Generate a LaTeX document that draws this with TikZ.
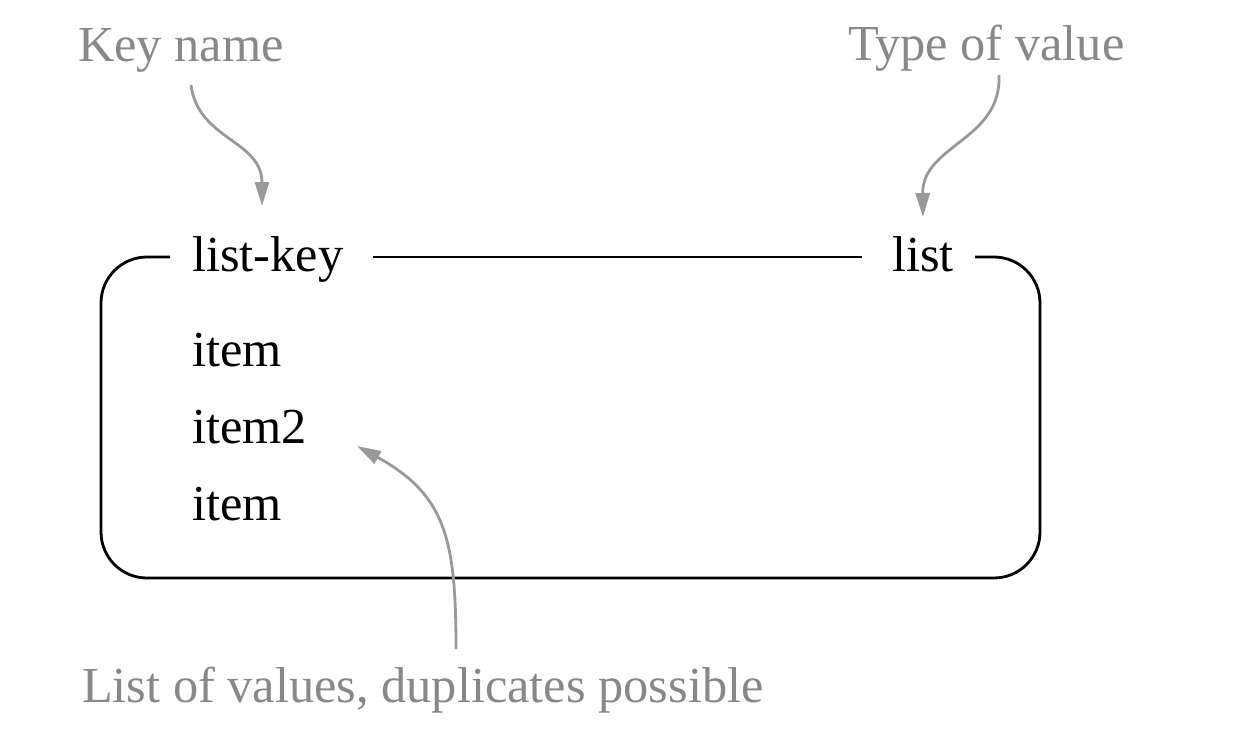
\documentclass[tikz,border=0pt]{standalone}
\usepackage{fontspec}
\setmainfont{Liberation Serif}
\usetikzlibrary{arrows.meta}
\definecolor{labelgray}{HTML}{888888}
\definecolor{arrowgray}{HTML}{999999}
\begin{document}
\begin{tikzpicture}[x=1pt,y=-1pt,
  every node/.style={inner sep=0pt, outer sep=0pt, anchor=base west, font=\fontsize{50.4}{60}\selectfont},
  notelabel/.style={text=labelgray},
  entry/.style={text=black},
  boxline/.style={draw=black, line width=2.8pt},
  note/.style={draw=arrowgray, line width=2.8pt, -{Triangle[length=24pt,width=14pt]}}]
\useasboundingbox (0,0) rectangle (1240,732);

% labels
\node[notelabel] (keyname) at (78,61) {Key name};
\node[notelabel] (typeval) at (848,60) {Type of value};
\node[notelabel] (listvals) at (82,702) {List of values, duplicates possible};

% entries
\node[entry] (listkey) at (192,271) {list-key};
\node[entry] (listtype) at (892,271) {list};
\node[entry] (item1) at (192,366) {item};
\node[entry] (item2) at (192,443) {item2};
\node[entry] (item3) at (192,520) {item};

% box
\coordinate (boxL) at (170,257);
\coordinate (boxR) at (975,257);
\coordinate (midL) at (373,257);
\coordinate (midR) at (862,257);
\draw[boxline, rounded corners=46pt] (boxL) -| (101,578) -| (1040,257) -- (boxR);
\draw[boxline] (midL) -- (midR);

% arrows
\coordinate (kn-out) at (191,85);
\coordinate (kn-in) at (262,206);
\coordinate (tv-out) at (999,75);
\coordinate (tv-in) at (923,217);
\coordinate (lv-out) at (456,649);
\coordinate (lv-in) at (357,446);
\draw[note] (kn-out) .. controls (198,140) and (262,140) .. (kn-in);
\draw[note] (tv-out) .. controls (1002,140) and (922,145) .. (tv-in);
\draw[note] (lv-out) .. controls (456,540) and (446,495) .. (lv-in);
\end{tikzpicture}
\end{document}
